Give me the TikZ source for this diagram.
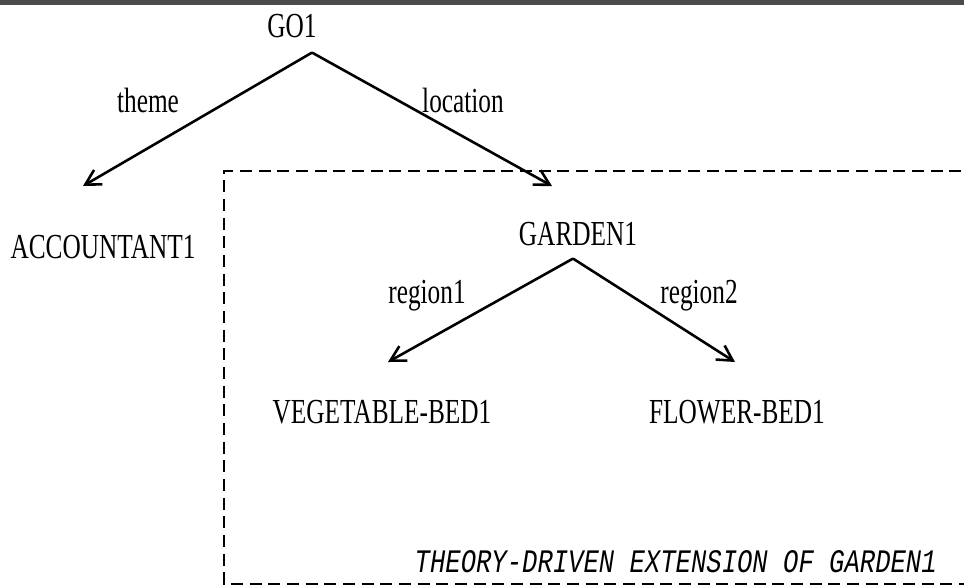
\documentclass[tikz,border=0pt]{standalone}
\usepackage{fontspec}
\setmainfont{Liberation Serif}[FakeStretch=0.72]
\newfontfamily\extfont{Liberation Mono}[FakeStretch=0.78]
\usetikzlibrary{arrows.meta}
\usetikzlibrary{calc}

\begin{document}
\begin{tikzpicture}[x=0.03cm,y=-0.03cm,
concept/.style={anchor=base,inner sep=0pt,font=\fontsize{30}{36}\selectfont},
rel/.style={concept},
link/.style={line width=2.2pt,-{Straight Barb[length=4.5mm,width=5mm,line width=2.2pt]}},
extbox/.style={line width=2.2pt,dash pattern=on 0.36cm off 0.2cm}]
\useasboundingbox (0,0) rectangle (964,587);
\fill[black!70] (0,0) rectangle (964,5);

\node (go1) at (292,37) [concept] {GO1};
\node (acc1) at (103,258) [concept] {ACCOUNTANT1};
\node (garden1) at (578,245) [concept] {GARDEN1};
\node (vegbed1) at (382,423) [concept] {VEGETABLE-BED1};
\node (flowerbed1) at (737,423) [concept] {FLOWER-BED1};

\node (theme) at (148,112) [rel] {theme};
\node (location) at (463,112) [rel] {location};
\node (region1) at (427,303) [rel] {region1};
\node (region2) at (699,303) [rel] {region2};

\coordinate (go1root) at ($(go1.south)+(20,15)$);
\coordinate (garden1root) at ($(garden1.south)+(-5,13)$);
\coordinate (acc1in) at (83,186);
\coordinate (garden1in) at (552,186);
\coordinate (vegbed1in) at (388,362);
\coordinate (flowerbed1in) at (735,362);

\draw[link] (go1root) -- (acc1in);
\draw[link] (go1root) -- (garden1in);
\draw[link] (garden1root) -- (vegbed1in);
\draw[link] (garden1root) -- (flowerbed1in);

% theory-driven extension
\draw[extbox] (980,171) -| (224,584) -- (980,584);
\node (ext) at (937,572) [anchor=base east,inner sep=0pt,font=\extfont\itshape\fontsize{28}{34}\selectfont] {THEORY-DRIVEN EXTENSION OF GARDEN1};
\end{tikzpicture}
\end{document}
